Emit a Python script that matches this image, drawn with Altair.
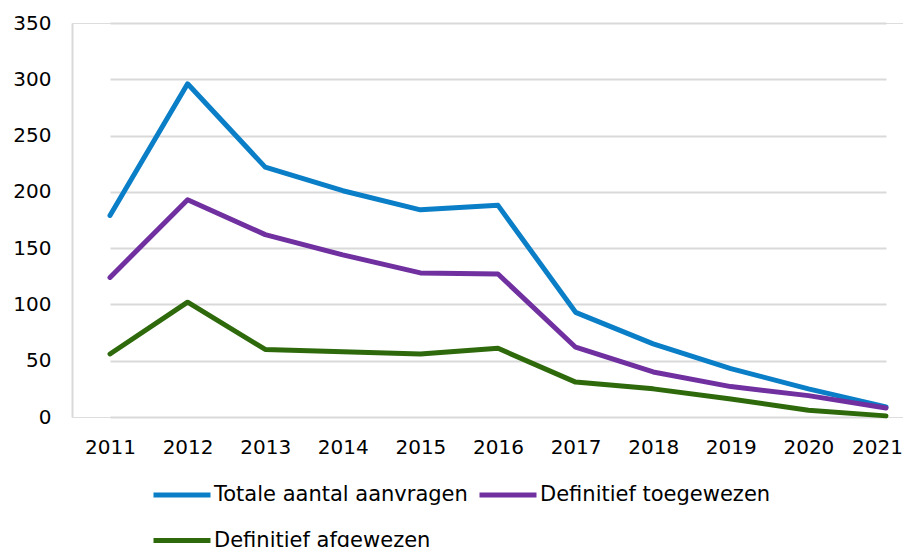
import altair as alt
import pandas as pd

years = ["2011", "2012", "2013", "2014", "2015", "2016", "2017", "2018", "2019", "2020", "2021"]
series_names = ["Totale aantal aanvragen", "Definitief toegewezen", "Definitief afgewezen"]
totale = [179, 296, 222, 201, 184, 188, 93, 65, 43, 25, 9]
toegewezen = [124, 193, 162, 144, 128, 127, 62, 40, 27, 19, 8]
afgewezen = [56, 102, 60, 58, 56, 61, 31, 25, 16, 6, 1]
colors = ["#0A7EC7", "#7030A0", "#2E6A0B"]
y_ticks = [0, 50, 100, 150, 200, 250, 300, 350]

rows = []
for name, vals in zip(series_names, [totale, toegewezen, afgewezen]):
    for i, (yr, v) in enumerate(zip(years, vals)):
        rows.append({"year": yr, "value": v, "series": name, "order": i})
df = pd.DataFrame(rows)

FONT = "DejaVu Sans"

chart = alt.Chart(df).mark_line(strokeWidth=5, strokeCap="round", strokeJoin="round").encode(
    x=alt.X("year:O", sort=years,
            scale=alt.Scale(type="point", range=[38, 814], padding=0),
            axis=alt.Axis(title=None, labelAngle=0, ticks=False, domain=False, grid=False,
                          labelPadding=20, labelFontSize=20, labelColor="#000000", labelFont=FONT,
                          labelOffset={"condition": {"test": "datum.value == '2021'", "value": -9},
                                       "value": 0})),
    y=alt.Y("value:Q",
            scale=alt.Scale(domain=[0, 350], nice=False),
            axis=alt.Axis(title=None, values=y_ticks, grid=True, gridColor="#d9d9d9", gridWidth=2,
                          domain=True, domainColor="#d9d9d9", domainWidth=2, ticks=False,
                          labelPadding=21, labelFontSize=20, labelColor="#000000", labelFont=FONT)),
    color=alt.Color("series:N",
                    scale=alt.Scale(domain=series_names, range=colors),
                    sort=series_names,
                    legend=alt.Legend(title=None, orient="none", legendX=79, legendY=441,
                                      direction="horizontal",
                                      columns=2, symbolType="stroke", symbolSize=3249,
                                      symbolStrokeWidth=5, labelFontSize=21, labelFont=FONT,
                                      labelColor="#000000", labelOffset=1, rowPadding=4.5,
                                      columnPadding=1, labelLimit=400)),
    order="order:Q",
).properties(
    width=831, height=394,
    autosize=alt.AutoSizeParams(type="none"),
    padding={"left": 64, "top": 15, "right": 0, "bottom": 130},
).configure_view(stroke=None).configure(background="white")

chart.save("out.html", embed_options={"renderer": "svg", "actions": False})
